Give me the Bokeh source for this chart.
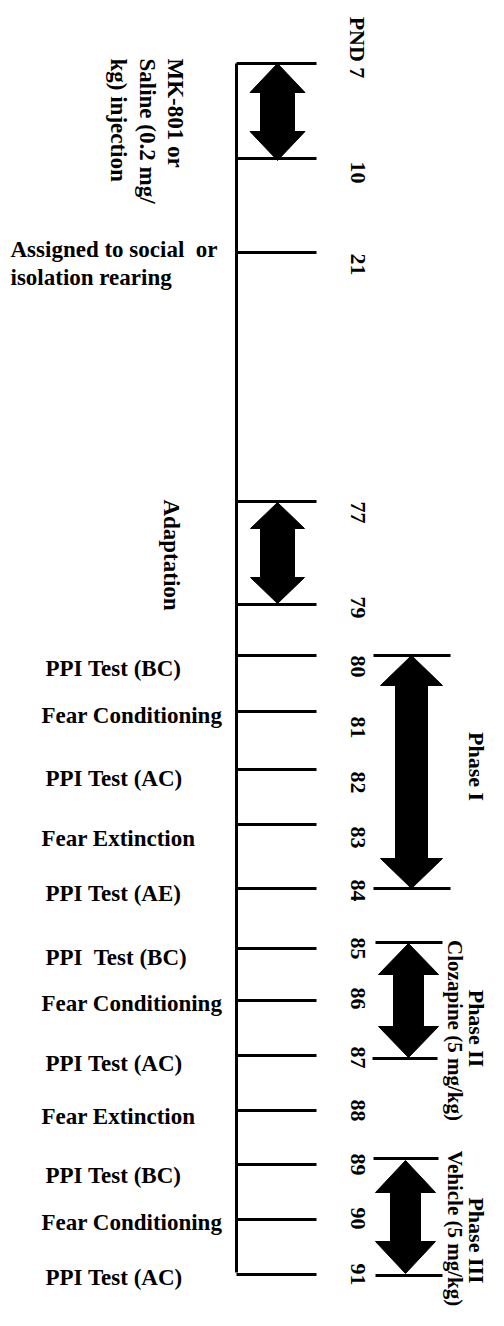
import math
from bokeh.plotting import figure
from bokeh.models import Range1d
from bokeh.core.properties import value
from bokeh.embed import file_html
from bokeh.resources import INLINE

# ---------------- data ----------------
days = [7, 10, 21, 77, 79, 80, 81, 82, 83, 84, 85, 86, 87, 88, 89, 90, 91]
day_labels = ["PND 7", "10", "21", "77", "79", "80", "81", "82", "83", "84",
              "85", "86", "87", "88", "89", "90", "91"]
event_days = [80, 81, 82, 83, 84, 85, 86, 87, 88, 89, 90, 91]
event_labels = ["PPI Test (BC)", "Fear Conditioning", "PPI Test (AC)", "Fear Extinction",
                "PPI Test (AE)", "PPI\u00a0 Test (BC)", "Fear Conditioning", "PPI Test (AC)",
                "Fear Extinction", "PPI Test (BC)", "Fear Conditioning", "PPI Test (AC)"]
injection_lines = ["MK-801 or", "Saline (0.2 mg/", "kg) injection"]
injection_span = (7, 10)
rearing_lines = ["Assigned to social\u00a0 or", "isolation rearing"]
rearing_day = 21
adaptation_label = "Adaptation"
adaptation_span = (77, 79)
phase_spans = [(80, 84), (85, 87), (89, 91)]
phase_titles = ["Phase I", "Phase II", "Phase III"]
phase_drugs = ["Clozapine (5 mg/kg)", "Vehicle (5 mg/kg)"]

# ---------------- layout (vertical position of each day row, px) ----------------
row_y = dict(zip(days, [63, 158, 252, 501, 604, 655, 711, 769, 824, 888,
                        948, 1000, 1055, 1110, 1164, 1219, 1274]))
day_label_y = [47, 172, 264, 512, 607, 666, 727, 782, 837, 890,
               948, 998, 1057, 1110, 1164, 1218, 1274]
event_label_y = [668, 715, 778, 838, 893, 957, 1003, 1063, 1116, 1175, 1222, 1277]

FONT = value("Liberation Serif")
FS = "23px"

p = figure(width=488, height=1310, x_range=Range1d(0, 488), y_range=Range1d(1310, 0),
           output_backend="svg", toolbar_location=None, min_border=0)
p.axis.visible = False
p.grid.visible = False
p.outline_line_color = None
p.background_fill_color = "white"

# main timeline
p.line(x=[236, 236], y=[row_y[days[0]], row_y[days[-1]] - 2], line_color="black", line_width=3)
# ticks
p.segment(x0=[236] * len(days), y0=[row_y[d] for d in days],
          x1=[316] * len(days), y1=[row_y[d] for d in days],
          line_color="black", line_width=3)

# day labels
p.text(x=[357] * len(days), y=day_label_y, text=day_labels, angle=-math.pi / 2,
       text_align="center", text_baseline="middle", text_font=FONT,
       text_font_size="22px", text_font_style="bold", text_color="black")

# event labels
ex = [45 if t.startswith("PPI") else 41 for t in event_labels]
p.text(x=ex, y=event_label_y, text=event_labels, text_align="left", text_baseline="middle",
       text_font=FONT, text_font_size=FS, text_font_style="bold", text_color="black")

# injection
p.text(x=[175, 147, 118], y=[58, 58, 58], text=injection_lines, angle=-math.pi / 2,
       text_align="left", text_baseline="middle", text_font=FONT, text_font_size=FS,
       text_font_style="bold", text_color="black")
# rearing
p.text(x=[10, 10], y=[row_y[rearing_day] - 3, row_y[rearing_day] + 25], text=rearing_lines,
       text_align="left", text_baseline="middle", text_font=FONT, text_font_size=FS,
       text_font_style="bold", text_color="black")
# adaptation
p.text(x=[171], y=[(row_y[adaptation_span[0]] + row_y[adaptation_span[1]]) / 2 + 2],
       text=[adaptation_label], angle=-math.pi / 2, text_align="center", text_baseline="middle",
       text_font=FONT, text_font_size=FS, text_font_style="bold", text_color="black")


def arrow(xc, top, bot, hw, sw, hl):
    xs = [xc, xc + hw / 2, xc + sw / 2, xc + sw / 2, xc + hw / 2, xc,
          xc - hw / 2, xc - sw / 2, xc - sw / 2, xc - hw / 2]
    ys = [top, top + hl, top + hl, bot - hl, bot - hl, bot,
          bot - hl, bot - hl, top + hl, top + hl]
    return xs, ys


arrows = [
    (277, row_y[injection_span[0]], row_y[injection_span[1]] + 2, 55, 34, 29),
    (277, row_y[adaptation_span[0]] + 1, row_y[adaptation_span[1]] - 1, 54, 34, 26),
    (411, row_y[phase_spans[0][0]], row_y[phase_spans[0][1]], 62, 32, 30),
    (408, row_y[phase_spans[1][0]] - 5, row_y[phase_spans[1][1]] + 2, 60, 30, 31),
    (405, row_y[phase_spans[2][0]] - 4, row_y[phase_spans[2][1]] - 1, 60, 30, 32),
]
axs, ays = [], []
for a in arrows:
    xs, ys = arrow(*a)
    axs.append(xs)
    ays.append(ys)
p.patches(xs=axs, ys=ays, fill_color="black", line_color="black", line_width=1)

# phase brackets
bx0 = [373, 373, 375, 372, 373, 375]
bx1 = [450, 450, 442, 437, 438, 442]
by = [row_y[80], row_y[84], row_y[85] - 6, row_y[87] + 3, row_y[89] - 6, row_y[91] + 1]
p.segment(x0=bx0, y0=by, x1=bx1, y1=by, line_color="black", line_width=3)

# phase labels
p.text(x=[476, 476, 476], y=[766, 1028, 1240], text=phase_titles, angle=-math.pi / 2,
       text_align="center", text_baseline="middle", text_font=FONT, text_font_size="22px",
       text_font_style="bold", text_color="black")
p.text(x=[454, 454], y=[1030, 1228], text=phase_drugs, angle=-math.pi / 2,
       text_align="center", text_baseline="middle", text_font=FONT, text_font_size="21px",
       text_font_style="bold", text_color="black")

open("out.html", "w").write(file_html(p, INLINE))
